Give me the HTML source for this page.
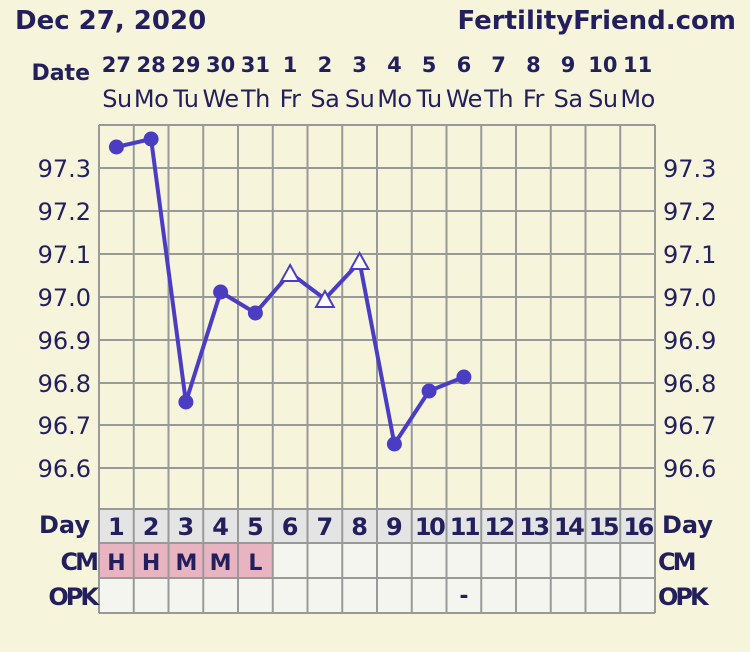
<!DOCTYPE html>
<html><head><meta charset="utf-8"><style>
html,body{margin:0;padding:0;background:#f7f4dc;}
svg{display:block;}
text{font-family:"DejaVu Sans","Liberation Sans",sans-serif;fill:#221f5c;}
.b{font-weight:bold;}
</style></head><body>
<svg width="750" height="652" viewBox="0 0 750 652" xmlns="http://www.w3.org/2000/svg">
<rect x="0" y="0" width="750" height="652" fill="#f7f4dc"/>
<text x="15" y="29" class="b" font-size="26">Dec 27, 2020</text>
<text x="736" y="29" class="b" font-size="26" text-anchor="end">FertilityFriend.com</text>
<text x="90" y="80" class="b" font-size="22" text-anchor="end">Date</text>
<g font-size="21" text-anchor="middle" class="b">
<text x="116.4" y="72" class="b">27</text><text x="151.1" y="72" class="b">28</text><text x="185.9" y="72" class="b">29</text><text x="220.6" y="72" class="b">30</text><text x="255.4" y="72" class="b">31</text><text x="290.1" y="72" class="b">1</text><text x="324.9" y="72" class="b">2</text><text x="359.6" y="72" class="b">3</text><text x="394.4" y="72" class="b">4</text><text x="429.1" y="72" class="b">5</text><text x="463.9" y="72" class="b">6</text><text x="498.6" y="72" class="b">7</text><text x="533.4" y="72" class="b">8</text><text x="568.1" y="72" class="b">9</text><text x="602.9" y="72" class="b">10</text><text x="637.6" y="72" class="b">11</text>
</g>
<g font-size="24" text-anchor="middle" letter-spacing="-0.5">
<text x="117" y="107">Su</text><text x="151.1" y="107">Mo</text><text x="185.9" y="107">Tu</text><text x="220.6" y="107">We</text><text x="255.4" y="107">Th</text><text x="290.1" y="107">Fr</text><text x="324.9" y="107">Sa</text><text x="359.6" y="107">Su</text><text x="394.4" y="107">Mo</text><text x="429.1" y="107">Tu</text><text x="463.9" y="107">We</text><text x="498.6" y="107">Th</text><text x="533.4" y="107">Fr</text><text x="568.1" y="107">Sa</text><text x="602.9" y="107">Su</text><text x="637.6" y="107">Mo</text>
</g>
<rect x="99" y="509" width="556" height="34" fill="#e4e4e4"/>
<rect x="99" y="543" width="556" height="70" fill="#f5f5ef"/>
<rect x="99" y="543" width="174" height="35" fill="#e8b4c2"/>
<g stroke="#999" stroke-width="2" fill="none">
<path d="M99 125V613M133.75 125V613M168.5 125V613M203.25 125V613M238 125V613M272.75 125V613M307.5 125V613M342.25 125V613M377 125V613M411.75 125V613M446.5 125V613M481.25 125V613M516 125V613M550.75 125V613M585.5 125V613M620.25 125V613M655 125V613"/>
<path d="M99 125H655M99 168H655M99 211H655M99 254H655M99 297H655M99 340H655M99 383H655M99 425H655M99 468H655M99 509H655M99 543H655M99 578H655M99 613H655"/>
</g>
<g font-size="24" text-anchor="end">
<text x="91" y="177">97.3</text><text x="91" y="220">97.2</text><text x="91" y="263">97.1</text><text x="91" y="306">97.0</text><text x="91" y="349">96.9</text><text x="91" y="392">96.8</text><text x="91" y="434">96.7</text><text x="91" y="477">96.6</text>
</g>
<g font-size="24">
<text x="663" y="177">97.3</text><text x="663" y="220">97.2</text><text x="663" y="263">97.1</text><text x="663" y="306">97.0</text><text x="663" y="349">96.9</text><text x="663" y="392">96.8</text><text x="663" y="434">96.7</text><text x="663" y="477">96.6</text>
</g>
<text x="90" y="533" class="b" font-size="24" text-anchor="end">Day</text>
<text x="662" y="533" class="b" font-size="24">Day</text>
<text x="96" y="570" class="b" font-size="24" text-anchor="end" letter-spacing="-3">CM</text>
<text x="658" y="570" class="b" font-size="24" letter-spacing="-3">CM</text>
<text x="96" y="605" class="b" font-size="24" text-anchor="end" letter-spacing="-3">OPK</text>
<text x="658" y="605" class="b" font-size="24" letter-spacing="-3">OPK</text>
<g font-size="24" text-anchor="middle" class="b">
<text x="116.4" y="535" class="b">1</text><text x="151.1" y="535" class="b">2</text><text x="185.9" y="535" class="b">3</text><text x="220.6" y="535" class="b">4</text><text x="255.4" y="535" class="b">5</text><text x="290.1" y="535" class="b">6</text><text x="324.9" y="535" class="b">7</text><text x="359.6" y="535" class="b">8</text><text x="394.4" y="535" class="b">9</text><text x="429.1" y="535" class="b" letter-spacing="-2.5">10</text><text x="463.9" y="535" class="b" letter-spacing="-2.5">11</text><text x="498.6" y="535" class="b" letter-spacing="-2.5">12</text><text x="533.4" y="535" class="b" letter-spacing="-2.5">13</text><text x="568.1" y="535" class="b" letter-spacing="-2.5">14</text><text x="602.9" y="535" class="b" letter-spacing="-2.5">15</text><text x="637.6" y="535" class="b" letter-spacing="-2.5">16</text>
</g>
<g font-size="22" text-anchor="middle" class="b">
<text x="116.4" y="570" class="b">H</text><text x="151.1" y="570" class="b">H</text><text x="185.9" y="570" class="b" letter-spacing="-1">M</text><text x="220.6" y="570" class="b">M</text><text x="255.4" y="570" class="b">L</text>
<text x="463.9" y="603" class="b">-</text>
</g>
<polyline fill="none" stroke="#4a3dc4" stroke-width="4" stroke-linejoin="round" points="116.4,147 151.1,139 185.9,402 220.6,292 255.4,313 290.1,273 324.9,299 359.6,262 394.4,444 429.1,391 463.9,377"/>
<g fill="#4a3dc4">
<circle cx="116.4" cy="147" r="7.5"/><circle cx="151.1" cy="139" r="7.5"/><circle cx="185.9" cy="402" r="7.5"/><circle cx="220.6" cy="292" r="7.5"/><circle cx="255.4" cy="313" r="7.5"/><circle cx="394.4" cy="444" r="7.5"/><circle cx="429.1" cy="391" r="7.5"/><circle cx="463.9" cy="377" r="7.5"/>
</g>
<g fill="#fff" stroke="#4a3dc4" stroke-width="2">
<polygon points="290.1,265 299,281 281.2,281"/>
<polygon points="324.9,291 333.8,307 316,307"/>
<polygon points="359.6,253 368.5,269 350.7,269"/>
</g>
</svg>
</body></html>
